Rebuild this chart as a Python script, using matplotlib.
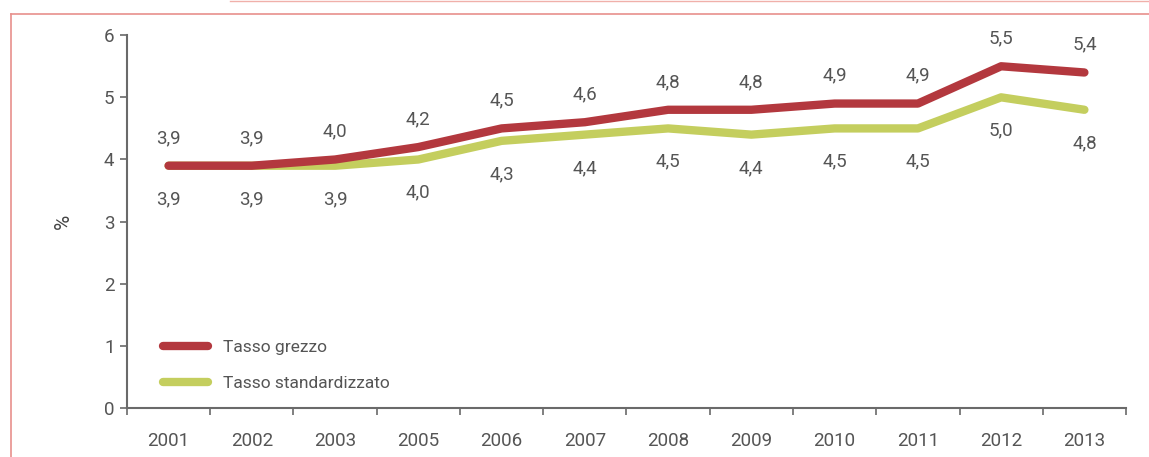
import matplotlib
matplotlib.use("Agg")
import matplotlib.pyplot as plt
from matplotlib.lines import Line2D

# data
years = ["2001", "2002", "2003", "2005", "2006", "2007",
         "2008", "2009", "2010", "2011", "2012", "2013"]
tasso_grezzo = [3.9, 3.9, 4.0, 4.2, 4.5, 4.6, 4.8, 4.8, 4.9, 4.9, 5.5, 5.4]
tasso_standard = [3.9, 3.9, 3.9, 4.0, 4.3, 4.4, 4.5, 4.4, 4.5, 4.5, 5.0, 4.8]

red = "#b3383e"
green = "#c4ce5e"
text_col = "#555555"
axis_col = "#6a6a6a"

plt.rcParams["font.family"] = ["Roboto", "DejaVu Sans"]

fig = plt.figure(figsize=(11.49, 4.57), dpi=100)
ax = fig.add_axes([0.1105, 0.107, 0.8695, 0.816])

x = list(range(len(years)))
ax.plot(x, tasso_standard, color=green, lw=6, solid_capstyle="round",
        solid_joinstyle="round", zorder=2)
ax.plot(x, tasso_grezzo, color=red, lw=6, solid_capstyle="round",
        solid_joinstyle="round", zorder=3)

# value labels: crude rate above, standardised below
for i in x:
    ax.annotate(f"{tasso_grezzo[i]:.1f}".replace(".", ","), (i, tasso_grezzo[i]),
                xytext=(0, 20), textcoords="offset points", ha="center", va="center",
                fontsize=13.5, color=text_col)
    ax.annotate(f"{tasso_standard[i]:.1f}".replace(".", ","), (i, tasso_standard[i]),
                xytext=(0, -24), textcoords="offset points", ha="center", va="center",
                fontsize=13.5, color=text_col)

ax.set_xlim(-0.5, len(years) - 0.5)
ax.set_ylim(0, 6)
ax.set_yticks(range(0, 7))
ax.set_xticks([i - 0.5 for i in range(len(years) + 1)])
ax.set_xticklabels([])
ax.set_xticks(x, minor=True)
ax.set_xticklabels(years, minor=True)
ax.tick_params(axis="x", which="minor", length=0, pad=17, labelsize=13.5, labelcolor=text_col)
ax.tick_params(axis="x", which="major", length=5, color=axis_col, width=1.2)
ax.tick_params(axis="y", length=5, color=axis_col, width=1.2, labelsize=13.5,
               labelcolor=text_col, pad=4)

for s in ["top", "right"]:
    ax.spines[s].set_visible(False)
for s in ["left", "bottom"]:
    ax.spines[s].set_color(axis_col)
    ax.spines[s].set_linewidth(1.5)

ax.set_ylabel("%", fontsize=15, color="#444444", labelpad=22)

handles = [Line2D([], [], color=red, lw=6, solid_capstyle="round"),
           Line2D([], [], color=green, lw=6, solid_capstyle="round")]
ax.legend(handles, ["Tasso grezzo", "Tasso standardizzato"], loc="lower left",
          bbox_to_anchor=(0.02, 0.005), frameon=False, fontsize=12.5,
          handlelength=2.6, handletextpad=0.9, labelspacing=1.2,
          labelcolor=text_col)

# pinkish frame of the scanned page
fig.add_artist(Line2D([11 / 1149, 11 / 1149], [0, 1 - 14 / 457],
                      transform=fig.transFigure, color="#e8908c", lw=1.2))
fig.add_artist(Line2D([11 / 1149, 1], [1 - 14 / 457, 1 - 14 / 457],
                      transform=fig.transFigure, color="#e8908c", lw=1.2))
fig.add_artist(Line2D([0.2, 1], [0.998, 0.998],
                      transform=fig.transFigure, color="#f0b0aa", lw=1.0))

fig.savefig("out.png", dpi=100)
